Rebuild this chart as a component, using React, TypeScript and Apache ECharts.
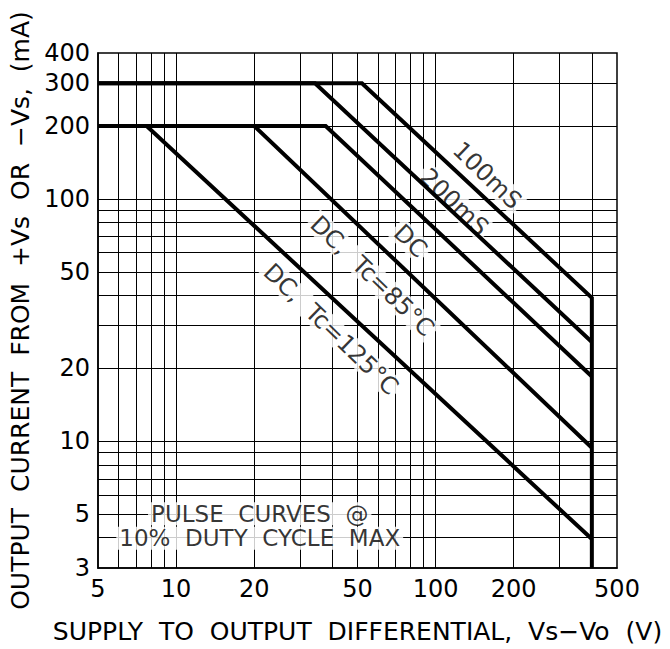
import React, { useEffect, useRef } from "react";
import * as echarts from "echarts";

// Axis ticks and grid values
const xTicks = [5, 10, 20, 50, 100, 200, 500];
const yTicks = [3, 5, 10, 20, 50, 100, 200, 300, 400];
const xGrid = [6, 7, 8, 9, 10, 20, 30, 40, 50, 60, 70, 80, 90, 100, 200, 300, 400];
const yGrid = [4, 5, 6, 7, 8, 9, 10, 20, 30, 40, 50, 60, 70, 80, 90, 100, 200, 300];

// Curves (V, mA)
const x100ms = [5, 52, 400, 400];
const y100ms = [300, 300, 39.1, 3];
const x200ms = [5, 34.3, 400];
const y200ms = [300, 300, 25.7];
const xDC = [5, 37.7, 400];
const yDC = [200, 200, 18.5];
const xDC85 = [5, 20, 400];
const yDC85 = [200, 200, 9.4];
const xDC125 = [5, 7.7, 400];
const yDC125 = [200, 200, 3.95];

// Curve annotations
const curveLabels = ["100mS", "200mS", "DC", "DC, Tc=85°C", "DC, Tc=125°C"];
const curveLabelX = [158, 118, 80, 57, 39.5];
const curveLabelY = [125, 97, 67, 48, 29];

// Note (two lines, sitting on the 5 mA and 4 mA grid lines)
const noteLines = ["PULSE CURVES @", "10% DUTY CYCLE MAX"];
const noteX = 21;
const noteY = 4.47;

const xTitle = "SUPPLY TO OUTPUT DIFFERENTIAL, Vs−Vo (V)";
const yTitle = "OUTPUT CURRENT FROM +Vs OR −Vs, (mA)";

const FONT = "'DejaVu Sans', sans-serif";
const wide = (s: string) => s.replace(/ /g, "\u00a0\u00a0");

const pairs = (xs: number[], ys: number[]) => xs.map((v, i) => [v, ys[i]]);

export default function App() {
  const ref = useRef<HTMLDivElement>(null);
  useEffect(() => {
    if (!ref.current) return;
    const chart = echarts.init(ref.current, undefined, { renderer: "svg" });
    const curveStyle = { color: "#000", width: 4, join: "miter" as const };
    const curve = (name: string, xs: number[], ys: number[]) => ({
      name,
      type: "line",
      data: pairs(xs, ys),
      symbol: "none",
      silent: true,
      z: 8,
      lineStyle: curveStyle,
    });
    const textBase = {
      show: true,
      fontFamily: FONT,
      fontSize: 24,
      color: "#000",
      position: "inside",
      align: "center",
      verticalAlign: "middle",
    };
    const rowStyle = {
      fontFamily: FONT,
      fontSize: 23,
      color: "#000",
      backgroundColor: "#fff",
      lineHeight: 24.5,
      padding: [0, 3],
      align: "center",
    };
    chart.setOption({
      animation: false,
      backgroundColor: "#fff",
      grid: {
        left: 98,
        top: 53,
        width: 519,
        height: 519,
        show: true,
        borderColor: "#000",
        borderWidth: 1.5,
        backgroundColor: "transparent",
      },
      xAxis: {
        type: "log",
        logBase: 10,
        min: 5,
        max: 500,
        name: wide(xTitle),
        nameLocation: "middle",
        nameGap: 51,
        nameTextStyle: { fontFamily: FONT, fontSize: 25, color: "#000" },
        axisLine: { show: true, lineStyle: { color: "#000", width: 1.5 } },
        axisTick: { show: false },
        splitLine: { show: false },
        axisLabel: {
          customValues: xTicks,
          fontFamily: FONT,
          fontSize: 24,
          color: "#000",
          margin: 9,
          formatter: (v: number) => String(Math.round(v)),
        },
      },
      yAxis: {
        type: "log",
        logBase: 10,
        min: 3,
        max: 400,
        name: wide(yTitle),
        nameLocation: "middle",
        nameGap: 60,
        nameTextStyle: { fontFamily: FONT, fontSize: 25, color: "#000" },
        axisLine: { show: true, lineStyle: { color: "#000", width: 1.5 } },
        axisTick: { show: false },
        splitLine: { show: false },
        axisLabel: {
          customValues: yTicks,
          fontFamily: FONT,
          fontSize: 24,
          color: "#000",
          margin: 8,
          formatter: (v: number) => String(Math.round(v)),
        },
      },
      series: [
        {
          name: "grid",
          type: "line",
          data: [[5, 3]],
          symbol: "none",
          silent: true,
          z: 1,
          lineStyle: { opacity: 0 },
          markLine: {
            silent: true,
            z: 1,
            symbol: ["none", "none"],
            label: { show: false },
            lineStyle: { color: "#000", width: 1, type: "solid" },
            data: [
              ...xGrid.map((v) => ({ xAxis: v })),
              ...yGrid.map((v) => ({ yAxis: v })),
            ],
          },
        },
        {
          name: "labels",
          type: "scatter",
          symbolSize: 0,
          silent: true,
          z: 4,
          data: [
            ...curveLabels.map((t, i) => ({
              value: [curveLabelX[i], curveLabelY[i]],
              label: {
                ...textBase,
                backgroundColor: "#fff",
                formatter: wide(t),
                rotate: -44,
                padding: [0, 3],
              },
            })),
            {
              value: [noteX, noteY],
              label: {
                ...textBase,
                rotate: 0,
                formatter: noteLines.map((t, i) => `{r${i}|${wide(t)}}`).join("\n"),
                rich: { r0: rowStyle, r1: rowStyle },
              },
            },
          ],
        },
        curve("100mS", x100ms, y100ms),
        curve("200mS", x200ms, y200ms),
        curve("DC", xDC, yDC),
        curve("DC, Tc=85°C", xDC85, yDC85),
        curve("DC, Tc=125°C", xDC125, yDC125),
      ],
    });
    return () => chart.dispose();
  }, []);
  return (
    <div
      ref={ref}
      style={{ position: "fixed", left: 0, top: 0, width: 670, height: 649 }}
    />
  );
}
